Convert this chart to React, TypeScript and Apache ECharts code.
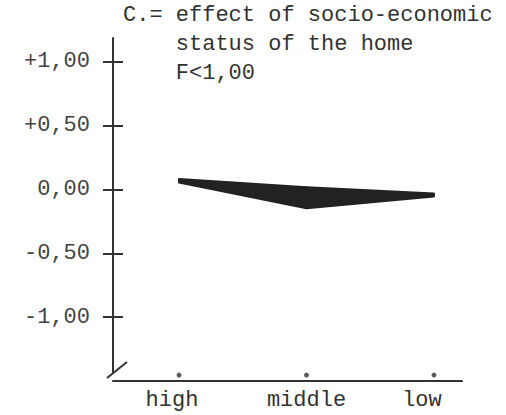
import React, { useEffect, useRef } from "react";
import * as echarts from "echarts";

const categories = ["high", "middle", "low"];
const upperValues = [0.082, 0.017, -0.031];
const lowerValues = [0.055, -0.147, -0.055];
const yTickValues = [-1, -0.5, 0, 0.5, 1];
const yTickLabels = ["-1,00", "-0,50", "0,00", "+0,50", "+1,00"];
const markerLevel = -1.455;
const titleLines = ["C.= effect of socio-economic", "    status of the home", "    F<1,00"];

const FONT = "'Liberation Mono', 'DejaVu Sans Mono', monospace";
const INK = "#333";
const BAND = "#222";

export default function App() {
  const ref = useRef<HTMLDivElement>(null);
  useEffect(() => {
    if (!ref.current) return;
    const chart = echarts.init(ref.current, null, { renderer: "svg" });
    const catIdx = categories.map((_, i) => i);
    const labelPad: Record<string, number[]> = {
      high: [0, 14, 0, 0],
      middle: [0, 0, 0, 0],
      low: [0, 24, 0, 0],
    };
    const rich: any = {};
    categories.forEach((c) => {
      rich[c] = { fontFamily: FONT, fontSize: 22, color: INK, padding: labelPad[c] };
    });
    chart.setOption({
      animation: false,
      backgroundColor: "#fff",
      title: {
        text: titleLines.join("\n"),
        left: 123,
        top: 1,
        padding: 0,
        textStyle: { fontFamily: FONT, fontSize: 22, lineHeight: 29, fontWeight: "normal", color: INK },
      },
      grid: { left: 113, right: 44, top: 38, bottom: 43 },
      xAxis: {
        type: "value",
        min: -0.518,
        max: 2.22,
        offset: 9,
        splitLine: { show: false },
        axisLine: { show: true, onZero: false, lineStyle: { color: INK, width: 2 } },
        axisTick: { show: false },
        axisLabel: {
          customValues: catIdx,
          margin: 8,
          formatter: (v: number) => {
            const c = categories[Math.round(v)];
            return `{${c}|${c}}`;
          },
          rich,
        },
      },
      yAxis: [
        {
          type: "value",
          min: -1.431,
          max: 1.188,
          splitLine: { show: false },
          axisLine: { show: true, onZero: false, lineStyle: { color: INK, width: 2 } },
          axisTick: { show: true, customValues: yTickValues, length: 10, lineStyle: { color: INK, width: 2 } },
          axisLabel: {
            customValues: yTickValues,
            margin: 23,
            fontFamily: FONT,
            fontSize: 22,
            color: "#444",
            formatter: (v: number) => yTickLabels[yTickValues.findIndex((t) => Math.abs(t - v) < 1e-6)] ?? "",
          },
        },
        {
          type: "value",
          position: "left",
          min: -1.431,
          max: 1.188,
          splitLine: { show: false },
          axisLine: { show: false, onZero: false },
          axisTick: { show: true, inside: true, customValues: yTickValues, length: 10, lineStyle: { color: INK, width: 2 } },
          axisLabel: { show: false },
        },
      ],
      graphic: [
        { type: "line", shape: { x1: 107, y1: 378, x2: 127, y2: 362 }, style: { stroke: INK, lineWidth: 2 } },
      ],
      series: [
        {
          type: "custom",
          clip: false,
          data: catIdx.map((i) => [i, upperValues[i], lowerValues[i]]),
          encode: { x: 0, y: [1, 2] },
          renderItem: (params: any, api: any) => {
            const i = params.dataIndex;
            if (i >= catIdx.length - 1) return null;
            const pts = [
              api.coord([i, upperValues[i]]),
              api.coord([i + 1, upperValues[i + 1]]),
              api.coord([i + 1, lowerValues[i + 1]]),
              api.coord([i, lowerValues[i]]),
            ];
            return {
              type: "polygon",
              shape: { points: pts },
              style: { fill: BAND, stroke: BAND, lineWidth: 2, lineJoin: "round" },
            };
          },
        },
        {
          type: "scatter",
          clip: false,
          data: catIdx.map((i) => [i, markerLevel]),
          symbolSize: 5,
          itemStyle: { color: INK },
        },
      ],
    });
    return () => chart.dispose();
  }, []);
  return <div ref={ref} style={{ position: "fixed", left: 0, top: 0, width: 506, height: 415 }} />;
}
